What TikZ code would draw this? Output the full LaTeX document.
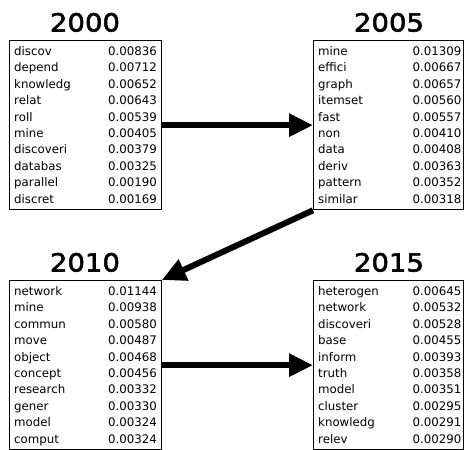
\documentclass[tikz,border=0pt]{standalone}
\usepackage{fontspec}
\setmainfont{DejaVu Sans}
\newfontfamily\yeartitlefont[FakeStretch=1.1,FakeBold=2.2]{DejaVu Sans}
\usetikzlibrary{arrows.meta}
\tikzset{
  yearbox/.style={draw=black, line width=1.3pt, rectangle, inner sep=0pt, minimum width=#1, minimum height=169pt, anchor=north west},
  yeartitle/.style={font=\yeartitlefont\fontsize{25}{28}\selectfont, anchor=base, inner sep=0pt},
  word/.style={font=\fontsize{11.8}{13}\selectfont, anchor=base west, inner sep=0pt},
  val/.style={font=\fontsize{11.8}{13}\selectfont, anchor=base east, inner sep=0pt},
  bigarrow/.style={line width=6pt, -{Triangle[length=24pt,width=22pt]}}
}
\begin{document}
\begin{tikzpicture}[x=1pt,y=-1pt]
\useasboundingbox (0,0) rectangle (464,450);
\fill[white] (0,0) rectangle (464,450);
% boxes
\node[yearbox=152pt] (b1) at (8.5,40) {};
\node[yearbox=149.5pt] (b2) at (313,40) {};
\node[yearbox=152pt] (b3) at (8.5,280) {};
\node[yearbox=149.5pt] (b4) at (313,280) {};
% titles
\node[yeartitle] (t1) at (85,31.5) {2000};
\node[yeartitle] (t2) at (389,31.5) {2005};
\node[yeartitle] (t3) at (85,271.5) {2010};
\node[yeartitle] (t4) at (389,271.5) {2015};
% box 1
\foreach \w/\v [count=\i from 0] in {discov/0.00836,depend/0.00712,knowledg/0.00652,relat/0.00643,roll/0.00539,mine/0.00405,discoveri/0.00379,databas/0.00325,parallel/0.00190,discret/0.00169}{
  \node[word] (w1-\i) at (14,55.5+16.4*\i) {\w};
  \node[val] (v1-\i) at (157,55.5+16.4*\i) {\v};
}
% box 2
\foreach \w/\v [count=\i from 0] in {mine/0.01309,effici/0.00667,graph/0.00657,itemset/0.00560,fast/0.00557,non/0.00410,data/0.00408,deriv/0.00363,pattern/0.00352,similar/0.00318}{
  \node[word] (w2-\i) at (318,55.5+16.4*\i) {\w};
  \node[val] (v2-\i) at (461.5,55.5+16.4*\i) {\v};
}
% box 3
\foreach \w/\v [count=\i from 0] in {network/0.01144,mine/0.00938,commun/0.00580,move/0.00487,object/0.00468,concept/0.00456,research/0.00332,gener/0.00330,model/0.00324,comput/0.00324}{
  \node[word] (w3-\i) at (14,295.5+16.4*\i) {\w};
  \node[val] (v3-\i) at (157,295.5+16.4*\i) {\v};
}
% box 4
\foreach \w/\v [count=\i from 0] in {heterogen/0.00645,network/0.00532,discoveri/0.00528,base/0.00455,inform/0.00393,truth/0.00358,model/0.00351,cluster/0.00295,knowledg/0.00291,relev/0.00290}{
  \node[word] (w4-\i) at (318,295.5+16.4*\i) {\w};
  \node[val] (v4-\i) at (461.5,295.5+16.4*\i) {\v};
}
% arrows
\draw[bigarrow] (b1.east) -- (b2.west);
\draw[bigarrow] (b2.south west) -- (b3.north east);
\draw[bigarrow] (b3.east) -- (b4.west);
\end{tikzpicture}
\end{document}
